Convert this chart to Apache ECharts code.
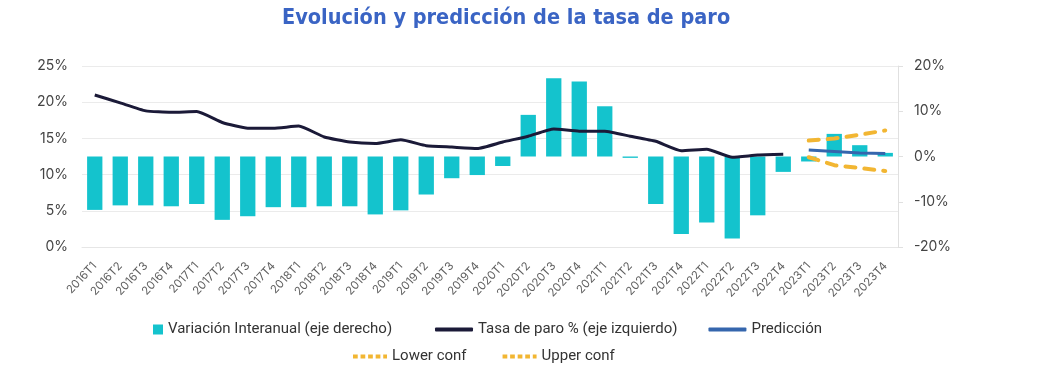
<!DOCTYPE html>
<html>
<head>
<meta charset="utf-8">
<script src="https://cdn.jsdelivr.net/npm/echarts@6/dist/echarts.min.js"></script>
<style>
html,body{margin:0;padding:0;background:#fff;}
#chart{width:1060px;height:378px;}
</style>
</head>
<body>
<div id="chart"></div>
<script>
const categories = ['2016T1','2016T2','2016T3','2016T4','2017T1','2017T2','2017T3','2017T4',
  '2018T1','2018T2','2018T3','2018T4','2019T1','2019T2','2019T3','2019T4',
  '2020T1','2020T2','2020T3','2020T4','2021T1','2021T2','2021T3','2021T4',
  '2022T1','2022T2','2022T3','2022T4','2023T1','2023T2','2023T3','2023T4'];
// Variación interanual (%), eje derecho
const variacion = [-11.8,-10.8,-10.8,-11.0,-10.5,-14.0,-13.2,-11.2,
  -11.2,-11.0,-11.0,-12.8,-11.9,-8.4,-4.8,-4.1,
  -2.1,9.2,17.3,16.6,11.1,-0.3,-10.5,-17.1,
  -14.6,-18.1,-13.0,-3.4,-1.1,5.0,2.5,0.8];
// Tasa de paro (%), eje izquierdo
const tasaParo = [21.0,19.9,18.8,18.6,18.7,17.2,16.4,16.4,
  16.7,15.2,14.5,14.3,14.8,14.0,13.8,13.6,
  14.5,15.3,16.3,16.0,16.0,15.3,14.6,13.3,
  13.5,12.4,12.7,12.8,null,null,null,null];
const prediccion = [null,null,null,null,null,null,null,null,null,null,null,null,null,null,null,null,
  null,null,null,null,null,null,null,null,null,null,null,null,13.4,13.2,13.0,12.9];
const lowerConf = [null,null,null,null,null,null,null,null,null,null,null,null,null,null,null,null,
  null,null,null,null,null,null,null,null,null,null,null,null,12.4,11.3,10.9,10.5];
const upperConf = [null,null,null,null,null,null,null,null,null,null,null,null,null,null,null,null,
  null,null,null,null,null,null,null,null,null,null,null,null,14.7,15.0,15.5,16.1];
const leftTicks = [0,5,10,15,20,25];
const rightTicks = [-20,-10,0,10,20];

const chart = echarts.init(document.getElementById('chart'), null, {renderer:'canvas'});
const axisFont = {fontFamily:'Inter', fontSize:14, color:'#444'};
const legendText = {fontFamily:'Roboto', fontSize:15, color:'#333'};
const dashIcon = 'path://M0,0h5v4h-5zM8,0h5v4h-5zM16,0h5v4h-5zM24,0h5v4h-5zM32,0h4v4h-4z';
chart.setOption({
  animation:false,
  backgroundColor:'#fff',
  title:{
    text:'Evolución y predicción de la tasa de paro',
    left:277, top:2,
    textStyle:{fontFamily:'DejaVu Sans Condensed', fontWeight:'bold', fontSize:21.5, color:'#3a64c4'}
  },
  grid:{left:82, right:162, top:66, bottom:131, containLabel:false},
  legend:[
    {left:148, top:317, itemWidth:10, itemHeight:10, itemTextGap:7, textStyle:legendText,
     data:[{name:'Variación Interanual (eje derecho)', icon:'rect'}]},
    {left:430, top:317, itemWidth:38, itemHeight:4, itemGap:31, itemTextGap:8, textStyle:legendText,
     data:[{name:'Tasa de paro % (eje izquierdo)', icon:'roundRect'},{name:'Predicción', icon:'roundRect'}]},
    {left:348, top:344, itemWidth:34, itemHeight:4, itemGap:36, itemTextGap:10, textStyle:legendText,
     data:[{name:'Lower conf', icon:dashIcon},{name:'Upper conf', icon:dashIcon}]}
  ],
  xAxis:{
    type:'category', data:categories,
    axisLine:{show:true, lineStyle:{color:'#e6e6e6'}},
    axisTick:{show:false},
    axisLabel:{rotate:47, fontFamily:'Inter', fontSize:11.5, color:'#606060', margin:17, interval:0}
  },
  yAxis:[
    {type:'value', min:leftTicks[0], max:leftTicks[leftTicks.length-1], interval:5, position:'left',
     axisLine:{show:false}, axisTick:{show:false},
     splitLine:{lineStyle:{color:'#ebebeb', width:1}},
     axisLabel:Object.assign({formatter:'{value}%', margin:14}, axisFont)},
    {type:'value', min:rightTicks[0], max:rightTicks[rightTicks.length-1], interval:10, position:'right',
     axisLine:{show:true, lineStyle:{color:'#e0e0e0'}},
     axisTick:{show:true, length:5, lineStyle:{color:'#e0e0e0'}},
     splitLine:{show:false},
     axisLabel:Object.assign({formatter:'{value}%', margin:16}, axisFont)}
  ],
  series:[
    {name:'Variación Interanual (eje derecho)', type:'bar', yAxisIndex:1, data:variacion,
     barWidth:'60%', itemStyle:{color:'#14c3cd'}},
    {name:'Tasa de paro % (eje izquierdo)', type:'line', yAxisIndex:0, data:tasaParo,
     symbol:'none', smooth:0.15, lineStyle:{color:'#1b1a38', width:3}, itemStyle:{color:'#1b1a38'}},
    {name:'Predicción', type:'line', yAxisIndex:0, data:prediccion,
     symbol:'none', lineStyle:{color:'#3566ad', width:3}, itemStyle:{color:'#3566ad'}},
    {name:'Lower conf', type:'line', yAxisIndex:0, data:lowerConf,
     symbol:'none', lineStyle:{color:'#f2b632', width:4, type:[10,9], cap:'round'}, itemStyle:{color:'#f2b632'}},
    {name:'Upper conf', type:'line', yAxisIndex:0, data:upperConf,
     symbol:'none', lineStyle:{color:'#f2b632', width:4, type:[10,9], cap:'round'}, itemStyle:{color:'#f2b632'}}
  ]
});
</script>
</body>
</html>
